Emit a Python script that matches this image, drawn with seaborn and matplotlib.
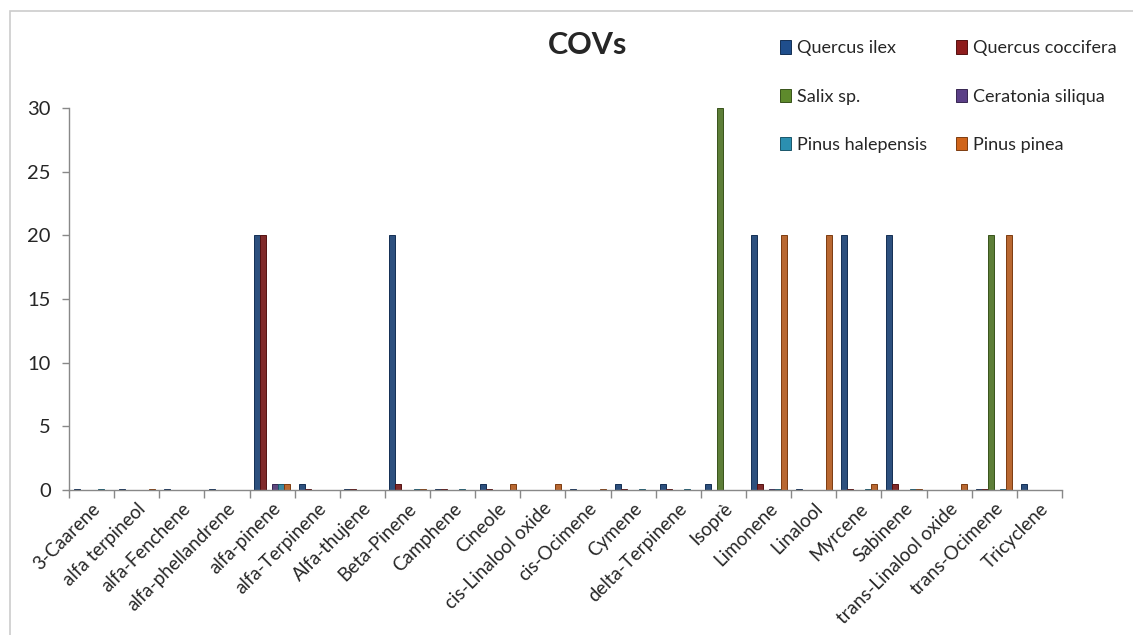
import numpy as np
import pandas as pd
import seaborn as sns
import matplotlib.pyplot as plt
import matplotlib.colors as mcolors
from matplotlib.patches import Rectangle

compounds = ["3-Caarene", "alfa terpineol", "alfa-Fenchene", "alfa-phellandrene",
             "alfa-pinene", "alfa-Terpinene", "Alfa-thujene", "Beta-Pinene",
             "Camphene", "Cineole", "cis-Linalool oxide", "cis-Ocimene", "Cymene",
             "delta-Terpinene", "Isoprè", "Limonene", "Linalool", "Myrcene",
             "Sabinene", "trans-Linalool oxide", "trans-Ocimene", "Tricyclene"]

species = ["Quercus ilex", "Quercus coccifera", "Salix sp.",
           "Ceratonia siliqua", "Pinus halepensis", "Pinus pinea"]

quercus_ilex = [0.1, 0.1, 0.1, 0.1, 20, 0.5, 0.1, 20, 0.1, 0.5, 0, 0.1, 0.5,
                0.5, 0.5, 20, 0.1, 20, 20, 0, 0.1, 0.5]
quercus_coccifera = [0, 0, 0, 0, 20, 0.1, 0.1, 0.5, 0.1, 0.1, 0, 0, 0.1,
                     0.1, 0, 0.5, 0, 0.1, 0.5, 0, 0.1, 0]
salix = [0, 0, 0, 0, 0, 0, 0, 0, 0, 0, 0, 0, 0,
         0, 30, 0, 0, 0, 0, 0, 20, 0]
ceratonia_siliqua = [0, 0, 0, 0, 0.5, 0, 0, 0, 0, 0, 0, 0, 0,
                     0, 0, 0.1, 0, 0, 0, 0, 0, 0]
pinus_halepensis = [0.1, 0, 0, 0, 0.5, 0, 0, 0.1, 0.1, 0, 0, 0, 0.1,
                    0.1, 0, 0.1, 0, 0.1, 0.1, 0, 0.1, 0]
pinus_pinea = [0, 0.1, 0, 0, 0.5, 0, 0, 0.1, 0, 0.5, 0.5, 0.1, 0,
               0, 0, 20, 20, 0.5, 0.1, 0.5, 20, 0]

colors = ["#1f4e8c", "#8e1c1c", "#5e8a2c", "#5b3f87", "#2b8fb0", "#d0641a"]

# long format for seaborn
series = [quercus_ilex, quercus_coccifera, salix, ceratonia_siliqua,
          pinus_halepensis, pinus_pinea]
rows = []
for sp, vals in zip(species, series):
    for c, v in zip(compounds, vals):
        rows.append({"compound": c, "species": sp, "value": v})
df = pd.DataFrame(rows)

sns.set_theme(style="white")
plt.rcParams['font.family'] = ['Lato', 'DejaVu Sans']

fig = plt.figure(figsize=(11.33, 6.35), dpi=100)
ax = fig.add_axes([0.0609, 0.2283, 0.8764, 0.6016])

sns.barplot(data=df, x="compound", y="value", hue="species", order=compounds,
            hue_order=species, palette=colors, width=0.8, ax=ax, legend=False)

# darker outline on each bar, like the office gradient bars
for cont, col in zip(ax.containers, colors):
    edge = tuple(np.array(mcolors.to_rgb(col)) * 0.6)
    for p in cont:
        if p.get_height() > 0:
            p.set_edgecolor(edge)
            p.set_linewidth(0.7)
        else:
            p.set_linewidth(0)

ax.set_ylim(0, 30)
ax.set_xlim(-0.5, len(compounds) - 0.5)
ax.set_yticks([0, 5, 10, 15, 20, 25, 30])
ax.set_xlabel("")
ax.set_ylabel("")

ax.set_xticks(np.arange(len(compounds)))
ax.set_xticklabels(compounds, rotation=45, ha="right", rotation_mode="anchor",
                   fontsize=13.5)
ax.tick_params(axis="x", length=0, pad=7)
ax.set_xticks(np.arange(len(compounds) + 1) - 0.5, minor=True)
ax.tick_params(axis="x", which="minor", length=6, color="#888888", width=1,
               direction="out", bottom=True)
ax.tick_params(axis="y", length=5, color="#888888", width=1, direction="out",
               left=True, labelsize=14.5, pad=8)

for s in ["top", "right"]:
    ax.spines[s].set_visible(False)
for s in ["left", "bottom"]:
    ax.spines[s].set_color("#888888")
    ax.spines[s].set_linewidth(1)

fig.text(0.519, 0.929, "COVs", fontsize=22, fontweight="bold",
         ha="center", va="center")

# legend, row-major like the original
handles = [Rectangle((0, 0), 1, 1, facecolor=c,
                     edgecolor=tuple(np.array(mcolors.to_rgb(c)) * 0.6),
                     linewidth=0.7) for c in colors]
order = [0, 2, 4, 1, 3, 5]
fig.legend([handles[i] for i in order], [species[i] for i in order],
           ncol=2, loc="upper left", bbox_to_anchor=(0.674, 0.962),
           frameon=False, fontsize=13, handlelength=0.6, handleheight=0.75,
           handletextpad=0.35, labelspacing=1.78, columnspacing=1.6)

# light outer chart border (right and bottom run off the canvas)
fig.patches.append(Rectangle((10 / 1133, -0.1), 1.2, 1 - 11 / 635 + 0.1,
                             transform=fig.transFigure, fill=False,
                             edgecolor="#cccccc", linewidth=1.2))

plt.savefig("out.png", dpi=100)
plt.close()
